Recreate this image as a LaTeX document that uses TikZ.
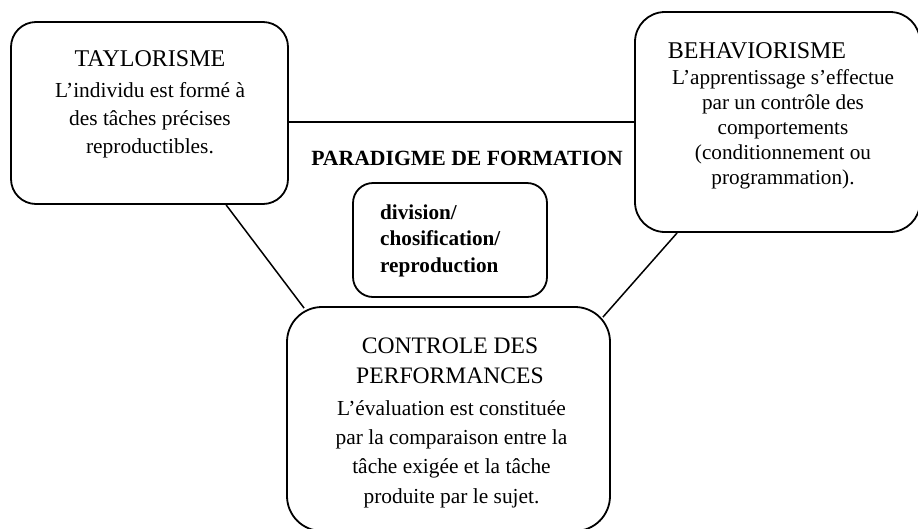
\documentclass[tikz,border=0pt]{standalone}
\usepackage{fontspec}
\setmainfont{Liberation Serif}
\begin{document}
\begin{tikzpicture}[x=1pt,y=-1pt,
  box/.style={draw,line width=1.8pt,inner sep=0pt,anchor=center},
  link/.style={line width=1.5pt},
  ttl/.style={inner sep=0pt,font=\fontsize{24}{30}\selectfont},
  body/.style={inner sep=0pt,align=center},
]
\useasboundingbox (0,0) rectangle (918,528);
% boxes
\node[box,rounded corners=25pt,minimum width=277pt,minimum height=182pt] (tay) at (149.5,113) {};
\node[box,rounded corners=30pt,minimum width=285pt,minimum height=220pt] (beh) at (777.5,122) {};
\node[box,rounded corners=35pt,minimum width=323pt,minimum height=224pt] (ctrl) at (448.5,419) {};
\node[box,rounded corners=20pt,minimum width=194pt,minimum height=114pt] (mid) at (450,240) {};
% connectors
\draw[link] (tay.east |- beh.west) -- (beh.west);
\draw[link] ([xshift=216pt]tay.south west) -- ([shift={(18pt,-2pt)}]ctrl.north west);
\draw[link] ([xshift=43pt]beh.south west) -- ([shift={(-8pt,-11pt)}]ctrl.north east);
% texts
\node[ttl] (tayT) at (150,59) {TAYLORISME};
\node[body,font=\fontsize{21.4}{28}\selectfont] (tayB) at (150,120)
  {L’individu est formé à\\des tâches précises\\reproductibles.};
\node[ttl] (behT) at (757,51) {BEHAVIORISME};
\node[body,font=\fontsize{21.2}{25}\selectfont] (behB) at (783,129)
  {L’apprentissage s’effectue\\par un contrôle des\\comportements\\(conditionnement ou\\programmation).};
\node[ttl,align=center,font=\fontsize{23.6}{30}\selectfont] (ctrlT) at (450,361) {CONTROLE DES\\PERFORMANCES};
\node[body,font=\fontsize{21.4}{29.4}\selectfont] (ctrlB) at (451.5,454)
  {L’évaluation est constituée\\par la comparaison entre la\\tâche exigée et la tâche\\produite par le sujet.};
\node[inner sep=0pt,font=\bfseries\fontsize{21.7}{26}\selectfont] (par) at (467,158) {PARADIGME DE FORMATION};
\node[inner sep=0pt,align=left,anchor=west,font=\bfseries\fontsize{21.2}{26.5}\selectfont] (midT) at (380,240.5)
  {division/\\chosification/\\reproduction};
\end{tikzpicture}
\end{document}
